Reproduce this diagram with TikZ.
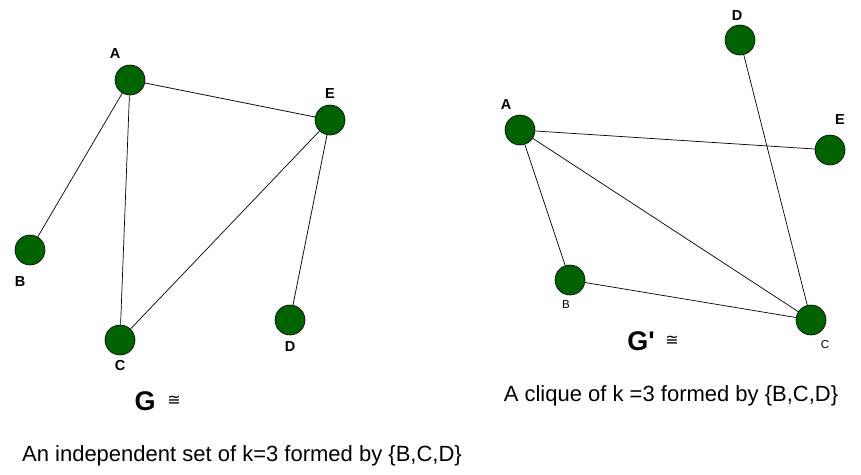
\documentclass[tikz,border=0pt]{standalone}
\usepackage{fontspec}
\setmainfont{Liberation Sans}
\newfontfamily\symfont{DejaVu Sans}
\begin{document}
\begin{tikzpicture}[x=1pt,y=-1pt,
  vtx/.style={circle,draw=black,fill=green!39!black,line width=0.6pt,minimum size=30pt,inner sep=0pt},
  conn/.style={draw=black,line width=0.7pt},
  lbl/.style={font=\fontsize{14.5}{14.5}\selectfont\bfseries,inner sep=0pt},
  slbl/.style={font=\fontsize{11.5}{11.5}\selectfont,inner sep=0pt},
  bigtxt/.style={font=\fontsize{27}{27}\selectfont\bfseries,inner sep=0pt},
  congtxt/.style={font=\fontsize{16}{16}\selectfont\symfont,inner sep=0pt},
  captext/.style={font=\fontsize{22}{22}\selectfont,inner sep=0pt}]
\useasboundingbox (0,0) rectangle (861,474);
% left graph
\node[vtx] (A) at (130,80) {};
\node[vtx] (E) at (330,120) {};
\node[vtx] (B) at (30,250) {};
\node[vtx] (C) at (120,340) {};
\node[vtx] (D) at (290,320) {};
\draw[conn] (A) -- (E);
\draw[conn] (A) -- (B);
\draw[conn] (A) -- (C);
\draw[conn] (E) -- (C);
\draw[conn] (E) -- (D);
\node[lbl] (lA) at (115,54) {A};
\node[lbl] (lE) at (330,94) {E};
\node[lbl] (lB) at (20,282) {B};
\node[lbl] (lC) at (120,366) {C};
\node[lbl] (lD) at (290,347) {D};
\node[bigtxt] (G) at (145,401) {G};
\node[congtxt] (Gc) at (174,401) {≅};
\node[captext] (t1) at (242,456) {An independent set of k=3 formed by \{B,C,D\}};
% right graph
\node[vtx] (A2) at (520,130) {};
\node[vtx] (D2) at (740,40) {};
\node[vtx] (E2) at (830,150) {};
\node[vtx] (B2) at (570,280) {};
\node[vtx] (C2) at (811,320) {};
\draw[conn] (A2) -- (E2);
\draw[conn] (A2) -- (B2);
\draw[conn] (A2) -- (C2);
\draw[conn] (B2) -- (C2);
\draw[conn] (D2) -- (C2);
\node[lbl] (lA2) at (506,105) {A};
\node[lbl] (lD2) at (737,16) {D};
\node[lbl] (lE2) at (840,120) {E};
\node[slbl] (lB2) at (566,305) {B};
\node[slbl] (lC2) at (825,345) {C};
\node[bigtxt] (G2) at (641,341) {G\textquotesingle};
\node[congtxt] (G2c) at (672,341) {≅};
\node[captext] (t2) at (671,396) {A clique of k =3 formed by \{B,C,D\}};
\end{tikzpicture}
\end{document}
